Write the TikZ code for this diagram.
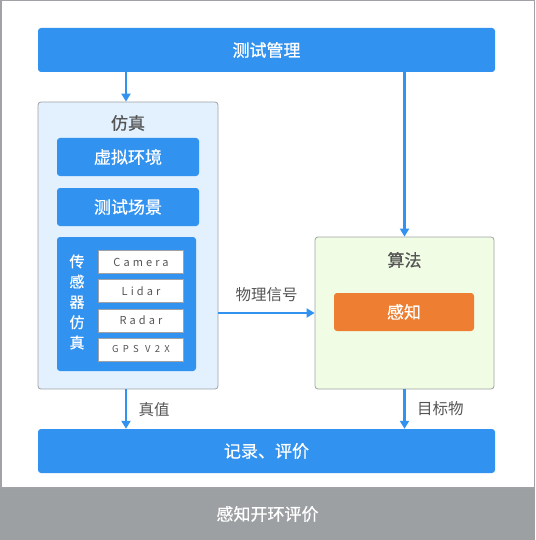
\documentclass[tikz,border=0pt]{standalone}
\usepackage{fontspec}
\setmainfont{Noto Sans CJK SC}
\newfontfamily\medfont[FakeBold=0.6]{Noto Sans CJK SC}
\newfontfamily\spacedfont[LetterSpace=28]{Noto Sans CJK SC}
\newfontfamily\widefont[LetterSpace=45]{Noto Sans CJK SC}
\usetikzlibrary{arrows.meta}
\definecolor{myblue}{RGB}{50,146,240}
\definecolor{simfill}{RGB}{227,240,253}
\definecolor{algofill}{RGB}{240,252,228}
\definecolor{myorange}{RGB}{237,126,50}
\definecolor{framegray}{RGB}{160,162,165}
\definecolor{bandgray}{RGB}{157,160,163}
\definecolor{textgray}{RGB}{85,85,85}
\tikzset{
  bluebar/.style={fill=myblue, rounded corners=3, text=white, inner sep=0,
    font=\medfont\fontsize{17}{17}\selectfont},
  groupbox/.style={draw=framegray, line width=0.8, rounded corners=3, inner sep=0},
  sensorbox/.style={fill=white, draw=framegray, line width=0.6, inner sep=0,
    minimum width=85, minimum height=23, text=textgray,
    font=\spacedfont\fontsize{11}{11}\selectfont},
  flow/.style={draw=myblue, line width=2.5, -{Triangle[width=9,length=8]}},
  flowlabel/.style={text=textgray, font=\fontsize{15.5}{15.5}\selectfont}
}
\begin{document}
\begin{tikzpicture}[x=1pt,y=-1pt]
\useasboundingbox (0,0) rectangle (535,540);
\fill[bandgray] (0,488) rectangle (535,540);
\draw[framegray, line width=1.5] (0.75,0.75) rectangle (534.25,488);
\node[text=white, font=\medfont\fontsize{17}{17}\selectfont] (title) at (267.5,514) {感知开环评价};

% top and bottom bars
\node[bluebar, minimum width=457, minimum height=44] (mgmt) at (266.5,50) {测试管理};
\node[bluebar, minimum width=457, minimum height=44] (rec) at (266.5,451) {记录、评价};

% simulation group
\node[groupbox, fill=simfill, minimum width=180, minimum height=287] (sim) at (128,245.5) {};
\node[text=textgray, font=\medfont\fontsize{17}{17}\selectfont] (simlabel) at (128,123) {仿真};
\node[bluebar, minimum width=142, minimum height=38] (env) at (128,157) {虚拟环境};
\node[bluebar, minimum width=142, minimum height=38] (scene) at (128,207) {测试场景};
\node[bluebar, minimum width=139, minimum height=134] (sensor) at (126.5,304) {};
\node[text=white, font=\medfont\fontsize{15}{20.3}\selectfont, align=center] (sensorlabel) at (77,302) {传\\感\\器\\仿\\真};
\node[sensorbox] (cam) at (141,262) {Camera};
\node[sensorbox] (lidar) at (141,291) {Lidar};
\node[sensorbox] (radar) at (141,320.5) {Radar};
\node[sensorbox, font=\widefont\fontsize{9.5}{9.5}\selectfont] (gps) at (141,349.5) {GPS V2X};

% algorithm group
\node[groupbox, fill=algofill, minimum width=179, minimum height=152] (algo) at (404.5,313) {};
\node[text=textgray, font=\medfont\fontsize{17}{17}\selectfont] (algolabel) at (404.5,260) {算法};
\node[fill=myorange, rounded corners=3, text=white, inner sep=0, minimum width=140,
  minimum height=38, font=\medfont\fontsize{17}{17}\selectfont] (percep) at (404,312) {感知};

% connectors
\draw[flow] ([xshift=-2]mgmt.south -| sim.north) -- ([xshift=-2]sim.north);
\draw[flow] (mgmt.south -| algo.north) -- (algo.north);
\draw[flow] (sim.east |- algo.west) -- (algo.west) node[midway, above=7pt, flowlabel] {物理信号};
\draw[flow] ([xshift=-2]sim.south) -- ([xshift=-2]sim.south |- rec.north) node[midway, right=8pt, flowlabel] {真值};
\draw[flow] (algo.south) -- (algo.south |- rec.north) node[midway, right=8pt, flowlabel] {目标物};
\end{tikzpicture}
\end{document}
